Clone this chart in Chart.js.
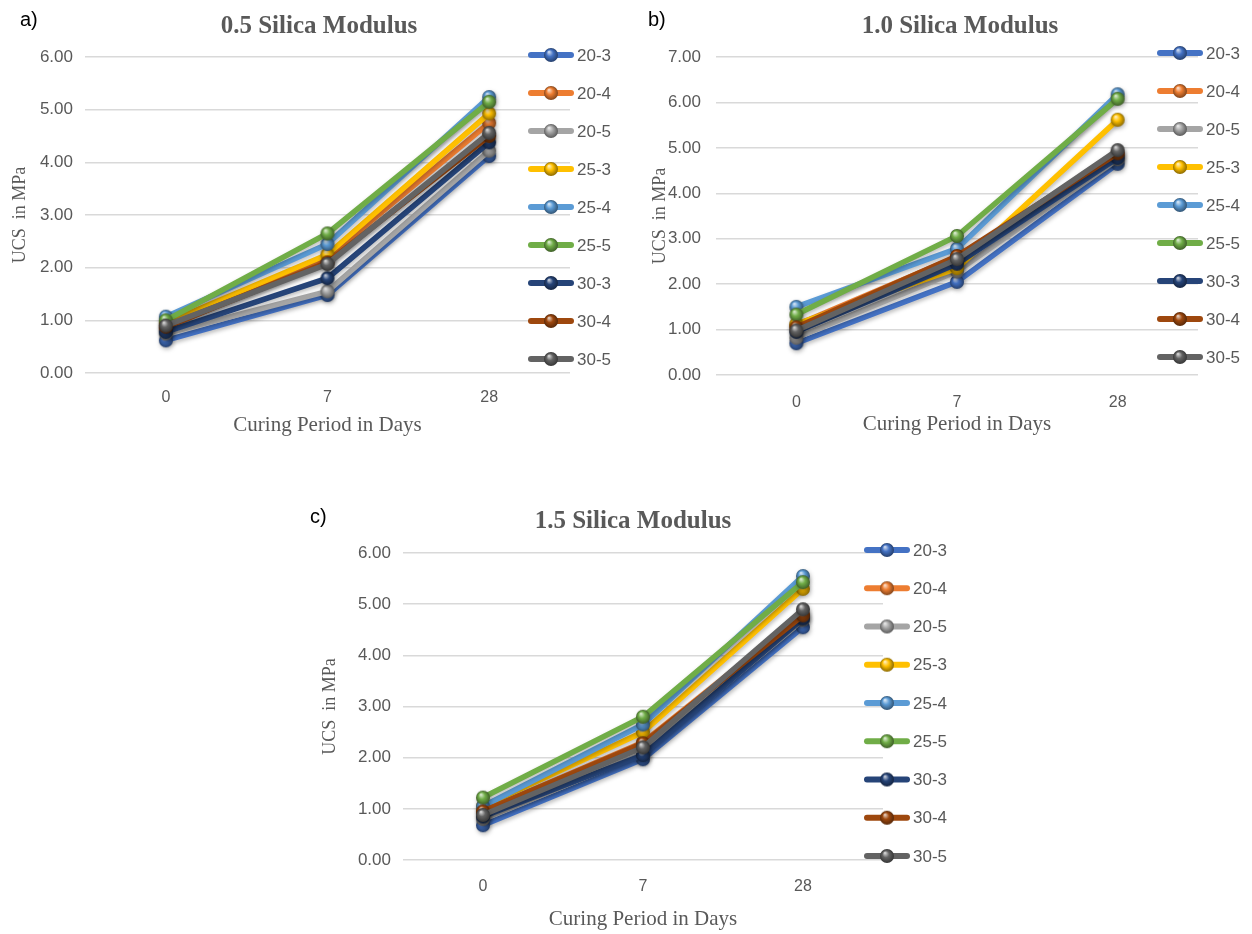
<!DOCTYPE html>
<html><head><meta charset="utf-8">
<script src="https://cdn.jsdelivr.net/npm/chart.js@4.4.1/dist/chart.umd.min.js"></script>
<style>
body{margin:0;background:#fff;width:1252px;height:934px;position:relative;overflow:hidden}
canvas{position:absolute}
</style></head><body>
<canvas id="ca" width="625" height="450" style="left:0;top:0"></canvas>
<canvas id="cb" width="622" height="450" style="left:630px;top:0"></canvas>
<canvas id="cc" width="660" height="454" style="left:310px;top:480px"></canvas>
<script>
// ---- data ----
const categories = ['0', '7', '28'];
const seriesNames = ['20-3', '20-4', '20-5', '25-3', '25-4', '25-5', '30-3', '30-4', '30-5'];
const seriesColors = ['#4472C4', '#ED7D31', '#A5A5A5', '#FFC000', '#5B9BD5', '#70AD47', '#264478', '#9E480E', '#636363'];
const chartTitles = ['0.5 Silica Modulus', '1.0 Silica Modulus', '1.5 Silica Modulus'];
const panelLabels = ['a)', 'b)', 'c)'];
const xAxisTitle = 'Curing Period in Days';
const yAxisTitle = 'UCS  in MPa';
const yMaxA = 6, yMaxB = 7, yMaxC = 6;

// 0.5 Silica Modulus
const a_20_3 = [0.62, 1.48, 4.12];
const a_20_4 = [0.85, 2.20, 4.75];
const a_20_5 = [0.75, 1.55, 4.22];
const a_25_3 = [0.95, 2.25, 4.93];
const a_25_4 = [1.07, 2.45, 5.24];
const a_25_5 = [1.00, 2.65, 5.15];
const a_30_3 = [0.78, 1.80, 4.38];
const a_30_4 = [0.88, 2.10, 4.50];
const a_30_5 = [0.90, 2.07, 4.56];
// 1.0 Silica Modulus
const b_20_3 = [0.70, 2.05, 4.65];
const b_20_4 = [1.10, 2.60, 4.85];
const b_20_5 = [0.82, 2.28, 4.75];
const b_25_3 = [1.12, 2.35, 5.62];
const b_25_4 = [1.50, 2.78, 6.18];
const b_25_5 = [1.33, 3.06, 6.08];
const b_30_3 = [0.95, 2.45, 4.78];
const b_30_4 = [1.05, 2.62, 4.88];
const b_30_5 = [0.98, 2.55, 4.95];
// 1.5 Silica Modulus
const c_20_3 = [0.68, 1.97, 4.55];
const c_20_4 = [0.95, 2.30, 4.80];
const c_20_5 = [0.80, 2.08, 4.70];
const c_25_3 = [1.05, 2.50, 5.30];
const c_25_4 = [1.05, 2.65, 5.55];
const c_25_5 = [1.22, 2.80, 5.43];
const c_30_3 = [0.85, 2.05, 4.72];
const c_30_4 = [0.95, 2.28, 4.78];
const c_30_5 = [0.88, 2.20, 4.90];

const valuesA = [a_20_3, a_20_4, a_20_5, a_25_3, a_25_4, a_25_5, a_30_3, a_30_4, a_30_5];
const valuesB = [b_20_3, b_20_4, b_20_5, b_25_3, b_25_4, b_25_5, b_30_3, b_30_4, b_30_5];
const valuesC = [c_20_3, c_20_4, c_20_5, c_25_3, c_25_4, c_25_5, c_30_3, c_30_4, c_30_5];

// ---- styling helpers ----
function hexRgb(h){ h=h.replace('#',''); return [parseInt(h.substr(0,2),16),parseInt(h.substr(2,2),16),parseInt(h.substr(4,2),16)]; }
function mix(h, t, f){ const c=hexRgb(h); return 'rgb('+c.map(v=>Math.round(v+(t-v)*f)).join(',')+')'; }
function sphere(color, r){
  const s = r*2+2, c = document.createElement('canvas'); c.width=s; c.height=s;
  const g = c.getContext('2d'), cx=s/2, cy=s/2;
  const grad = g.createRadialGradient(cx-r*0.3, cy-r*0.45, r*0.05, cx, cy, r);
  grad.addColorStop(0, mix(color,255,0.75));
  grad.addColorStop(0.45, color);
  grad.addColorStop(1, mix(color,0,0.45));
  g.fillStyle = grad; g.beginPath(); g.arc(cx,cy,r,0,Math.PI*2); g.fill();
  return c;
}
const spheres = seriesColors.map(c => sphere(c, 7));
const TXT = '#595959';

function makeChart(id, values, o){
  const datasets = values.map((v,i)=>({
    label: seriesNames[i], data: v, borderColor: seriesColors[i], backgroundColor: seriesColors[i],
    borderWidth: 5.5, pointStyle: spheres[i], pointRadius: 7, pointHoverRadius: 7,
    tension: 0, fill: false, order: -i
  }));
  const decor = {
    id: 'decor',
    beforeDatasetsDraw(chart){ const c=chart.ctx; c.save(); c.shadowColor='rgba(0,0,0,0.28)'; c.shadowBlur=4; c.shadowOffsetX=1; c.shadowOffsetY=2; },
    afterDatasetsDraw(chart){ chart.ctx.restore(); },
    afterDraw(chart){
      const c = chart.ctx;
      c.save();
      c.fillStyle = TXT; c.textAlign='center'; c.textBaseline='middle';
      c.font = 'bold 25px "Liberation Serif"';
      c.fillText(o.title, o.titleX, o.titleY);
      c.fillStyle = '#000'; c.textAlign='left';
      c.font = '20px "Liberation Sans"';
      c.fillText(o.panel, o.panelX, o.panelY);
      // legend
      c.font = '17px "Liberation Sans"';
      for (let i=0;i<seriesNames.length;i++){
        const y = o.legY + i*o.legStep, x = o.legX;
        c.strokeStyle = seriesColors[i]; c.lineWidth = 6; c.lineCap='round';
        c.beginPath(); c.moveTo(x-20,y); c.lineTo(x+20,y); c.stroke();
        c.drawImage(spheres[i], x-spheres[i].width/2, y-spheres[i].height/2);
        c.fillStyle = TXT; c.textAlign='left'; c.textBaseline='middle';
        c.fillText(seriesNames[i], x+26, y+1);
      }
      c.restore();
    }
  };
  return new Chart(document.getElementById(id), {
    type: 'line',
    data: { labels: categories, datasets },
    options: {
      responsive: false, animation: false, events: [],
      layout: { padding: { top: o.top, right: o.right, left: 0, bottom: 0 } },
      plugins: { legend: { display: false }, tooltip: { enabled: false }, title: { display: false } },
      scales: {
        x: {
          offset: true,
          grid: { display: false, drawTicks: false }, border: { display: false },
          ticks: { color: TXT, font: { family: 'Liberation Sans', size: 16 }, padding: o.xpad },
          title: { display: true, text: xAxisTitle, color: TXT, font: { family: 'Liberation Serif', size: 21 }, padding: { top: 0, bottom: o.xtp } },
          afterFit: s => { s.height = o.xh; }
        },
        y: {
          min: 0, max: o.ymax,
          grid: { color: '#d9d9d9', lineWidth: 1.5, drawTicks: false }, border: { display: false },
          ticks: { stepSize: 1, color: TXT, font: { family: 'Liberation Sans', size: 17 }, padding: o.ypad, callback: v => Number(v).toFixed(2) },
          title: { display: true, text: yAxisTitle, color: TXT, font: { family: 'Liberation Serif', size: 18 }, padding: { top: o.ytp, bottom: 0 } },
          afterFit: s => { s.width = o.yw; }
        }
      }
    },
    plugins: [decor]
  });
}

makeChart('ca', valuesA, { ymax: yMaxA, top: 57, right: 55, yw: 85, xh: 77, xpad: 15, xtp: 12, ypad: 12, ytp: 9,
  title: chartTitles[0], titleX: 319, titleY: 27, panel: panelLabels[0], panelX: 20, panelY: 20,
  legX: 551, legY: 55, legStep: 38 });
makeChart('cb', valuesB, { ymax: yMaxB, top: 57, right: 54, yw: 86, xh: 75, xpad: 18, xtp: 13, ypad: 15, ytp: 19,
  title: chartTitles[1], titleX: 330, titleY: 27, panel: panelLabels[1], panelX: 18, panelY: 20,
  legX: 550, legY: 53, legStep: 38 });
makeChart('cc', valuesC, { ymax: yMaxC, top: 73, right: 87, yw: 93, xh: 74, xpad: 17, xtp: 2, ypad: 12, ytp: 9,
  title: chartTitles[2], titleX: 323, titleY: 42, panel: panelLabels[2], panelX: 0, panelY: 37,
  legX: 577, legY: 70, legStep: 38.25 });
</script>
</body></html>
